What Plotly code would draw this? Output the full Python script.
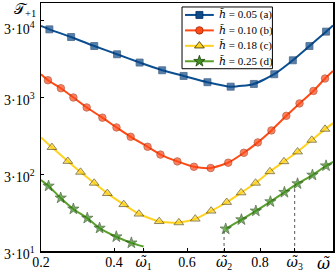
import plotly.graph_objects as go
import math

# ---- data ----
w1, w2, w3 = 0.481, 0.7015, 0.895

xa = [0.2, 0.223, 0.2825, 0.3459, 0.4084, 0.4702, 0.532, 0.5908, 0.656, 0.7197, 0.7831, 0.839, 0.890, 0.9355, 0.981, 1.0]
ya = [25300, 22900, 18200, 13900, 10850, 8470, 6720, 5670, 4700, 4110, 4460, 5970, 9070, 13900, 21400, 25800]

xb = [0.2, 0.219, 0.2544, 0.2887, 0.3252, 0.3682, 0.4068, 0.4457, 0.492, 0.5273, 0.5736, 0.619, 0.6648,
      0.7129, 0.7559, 0.794, 0.8313, 0.8721, 0.9083, 0.9464, 0.9782, 1.0]
yb = [5970, 4990, 3925, 2973, 2205, 1625, 1211, 915, 679, 537, 438, 373, 359,
      421, 567, 774, 1108, 1715, 2490, 3620, 5250, 6590]

xc = [0.2, 0.2299, 0.2735, 0.3083, 0.3456, 0.3818, 0.4267, 0.4683, 0.5238, 0.5777, 0.6226, 0.6661, 0.7088,
      0.7483, 0.7878, 0.8272, 0.8656, 0.9029, 0.9418, 0.9782, 1.0]
yc = [899, 667, 440, 318, 229, 168, 120.5, 90.7, 72.5, 69.9, 78.1, 99.2, 128.7,
      171.5, 229, 323, 436, 584, 829, 1152, 1378]

xd1 = [0.2, 0.2207, 0.2539, 0.2887, 0.3268, 0.3605, 0.4063, 0.4476, w1]
yd1 = [250.6, 209.5, 146.4, 105.3, 80, 59.3, 45.8, 38.1, 34.1]

xd2 = [0.706, 0.7491, 0.7886, 0.8286, 0.8669, 0.9029, 0.9437, 0.981, 1.0]
yd2 = [57.9, 76.4, 99.2, 131, 173.5, 224.4, 291, 384, 433]

# vertical guide heights at the critical frequencies
guide_x = [w1, w2, w3]
guide_top = [34.1, 57.9, 216]

OM = "<span style=\"font-family:'DejaVu Serif'\"><i>ω̃</i></span>"
HT = "<span style=\"font-family:'DejaVu Serif'\"><i>h̃</i></span>"

xtick_vals = [0.2, 0.4, w1, 0.6, w2, 0.8, w3]
xtick_text = ["0.2", "0.4", OM + "<sub>1</sub>", "0.6", OM + "<sub>2</sub>", "0.8", OM + "<sub>3</sub>"]
ytick_vals = [30, 300, 3000, 30000]
ytick_text = ["3·10<sup>1</sup>", "3·10<sup>2</sup>", "3·10<sup>3</sup>", "3·10<sup>4</sup>"]
ytick_nudge = [-2, -2, -2, -8]   # label offset in px (top label sits below its tick, as in the reference)

labels = [HT + " = 0.05 (a)", HT + " = 0.10 (b)", HT + " = 0.18 (c)", HT + " = 0.25 (d)"]

FONT = "Liberation Serif"

styles = [
    dict(line="#0b4f91", fill="#0b4a8b", edge="#062a55", symbol="square", size=7),
    dict(line="#ff4a14", fill="#ff4a1a", edge="#9a2a08", symbol="circle", size=7.5),
    dict(line="#ffd21f", fill="#ffd21f", edge="#3a3000", symbol="triangle-up", size=8.5),
    dict(line="#5aa02c", fill="#3f8f1f", edge="#1c3f0c", symbol="star", size=8.5),
]

# plot-area geometry in page pixels
L, R, T, B = 41, 335, 3, 252
W, H = 336, 273

fig = go.Figure()

# guides
for gx, gt in zip(guide_x, guide_top):
    fig.add_trace(go.Scatter(x=[gx, gx], y=[29, gt], mode="lines",
                             line=dict(color="#555555", width=1, dash="dot"),
                             showlegend=False, hoverinfo="skip"))

series = [(xa, ya), (xb, yb), (xc, yc), (xd1, yd1), (xd2, yd2)]
style_idx = [0, 1, 2, 3, 3]
for (xs, ys), si in zip(series, style_idx):
    s = styles[si]
    sizes = [s["size"]] * len(xs)
    if xs[0] <= 0.2:
        sizes[0] = 0
    if xs[-1] >= 1.0 or xs[-1] == w1:
        sizes[-1] = 0
    fig.add_trace(go.Scatter(
        x=xs, y=ys, mode="lines+markers",
        line=dict(color=s["line"], width=2, shape="spline", smoothing=0.6),
        marker=dict(symbol=s["symbol"], size=sizes, color=s["fill"],
                    line=dict(color=s["edge"], width=0.8)),
        showlegend=False, hoverinfo="skip"))

# ---- compact legend (overlay axes measured in page pixels) ----
leg_x0, leg_x1, leg_y0, leg_y1 = 183, 274, 7, 69
row_h = 15.5
shapes = [dict(type="rect", xref="x2", yref="y2", x0=leg_x0, x1=leg_x1, y0=leg_y0, y1=leg_y1,
               line=dict(color="black", width=1), fillcolor="white", layer="below")]
annotations = []
for i, (lab, s) in enumerate(zip(labels, styles)):
    yc_ = leg_y0 + 8 + i * row_h
    fig.add_trace(go.Scatter(x=[leg_x0 + 3, leg_x0 + 32], y=[yc_, yc_], mode="lines",
                             line=dict(color=s["line"], width=2),
                             xaxis="x2", yaxis="y2", showlegend=False, hoverinfo="skip"))
    fig.add_trace(go.Scatter(x=[leg_x0 + 17.5], y=[yc_], mode="markers",
                             marker=dict(symbol=s["symbol"], size=s["size"], color=s["fill"],
                                         line=dict(color=s["edge"], width=0.8)),
                             xaxis="x2", yaxis="y2", showlegend=False, hoverinfo="skip"))
    annotations.append(dict(text=lab, xref="x2", yref="y2", x=leg_x0 + 35, y=yc_,
                            xanchor="left", yanchor="middle", showarrow=False,
                            font=dict(family=FONT, size=11)))

# y tick labels
for v, t, dy in zip(ytick_vals, ytick_text, ytick_nudge):
    annotations.append(dict(text=t, xref="paper", yref="y", x=-0.012, y=math.log10(v),
                            xanchor="right", yanchor="middle", yshift=dy, showarrow=False,
                            font=dict(family=FONT, size=14)))

annotations += [
    dict(text=OM, xref="paper", yref="paper", x=0.968, y=-0.005,
         xanchor="center", yanchor="top", showarrow=False,
         font=dict(family=FONT, size=16)),
    dict(text="𝒯<sub>+1</sub>", xref="paper", yref="paper", x=-0.01, y=1.015,
         xanchor="right", yanchor="top", showarrow=False,
         font=dict(family=FONT, size=15)),
]

fig.update_layout(
    width=W, height=H,
    margin=dict(l=L, r=W - R, t=T, b=H - B),
    paper_bgcolor="white", plot_bgcolor="white",
    font=dict(family=FONT, size=13, color="black"),
    showlegend=False,
    shapes=shapes,
    annotations=annotations,
    xaxis=dict(range=[0.2, 1.0], tickvals=xtick_vals, ticktext=xtick_text,
               ticks="inside", ticklen=3, tickwidth=1, tickcolor="black",
               showline=True, linecolor="black", linewidth=1.5, mirror=True,
               showgrid=False, zeroline=False, ticklabelstandoff=-2,
               tickfont=dict(family=FONT, size=14)),
    yaxis=dict(type="log", range=[math.log10(30) - 0.002, 4.703],
               tickvals=ytick_vals, showticklabels=False,
               ticks="inside", ticklen=3, tickwidth=1, tickcolor="black",
               showline=True, linecolor="black", linewidth=1.5, mirror=True,
               showgrid=False, zeroline=False),
    xaxis2=dict(overlaying="x", range=[L, R], visible=False, fixedrange=True),
    yaxis2=dict(overlaying="y", range=[B, T], visible=False, fixedrange=True),
)

fig.write_html("out.html", config={"displayModeBar": False, "staticPlot": True},
               post_script="document.body.style.margin='0';document.body.style.overflow='hidden';")
